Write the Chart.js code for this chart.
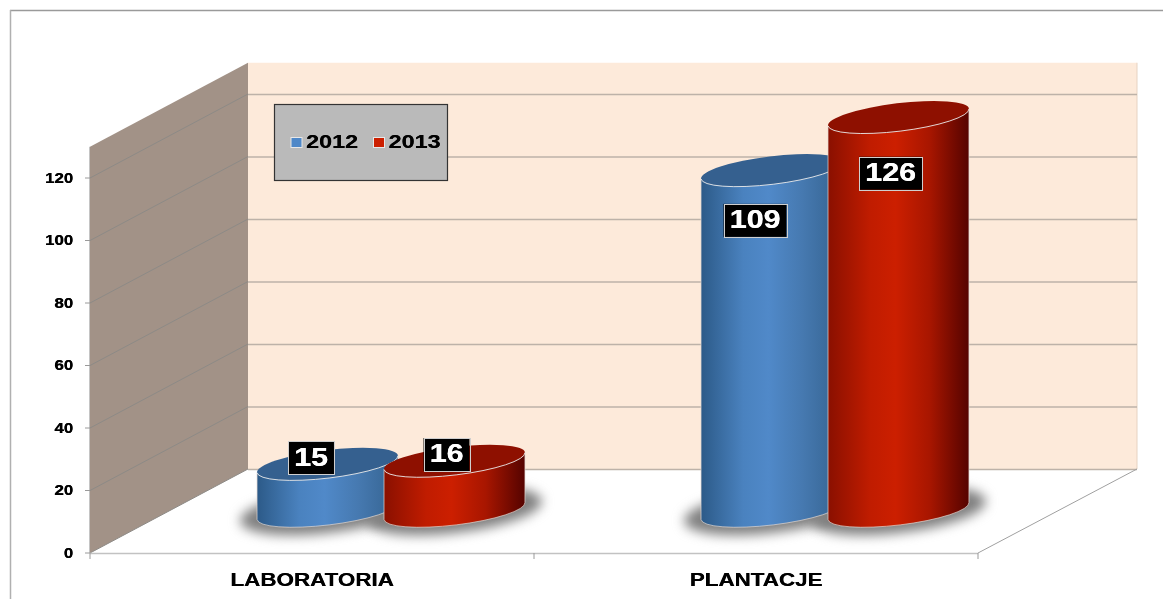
<!DOCTYPE html>
<html>
<head>
<meta charset="utf-8">
<title>Laboratoria / Plantacje</title>
<script src="https://cdn.jsdelivr.net/npm/chart.js@4"></script>
<style>
  html, body { margin: 0; padding: 0; background: #fff; overflow: hidden; }
  canvas { display: block; }
</style>
</head>
<body>
<canvas id="chart" width="1163" height="599"></canvas>
<script>
// data
const categories = ['LABORATORIA', 'PLANTACJE'];
const values2012 = [15, 109];
const values2013 = [16, 126];
const yTicks = [0, 20, 40, 60, 80, 100, 120];

// look of the fake 3d box
const depthX = 158;
const depthY = 84;
const tilt = -0.12;
const fontName = '"Liberation Sans", Arial, sans-serif';

const looks = [
  { color: '#4f88c8', top: '#35608f', stops: ['#2c5a88', '#4a82bf', '#5089c9', '#4679b0', '#34628f'], shiftX: -16.5, shiftTall: 50 },
  { color: '#cc1f00', top: '#8e1000', stops: ['#8a1000', '#c01c00', '#cc1f00', '#a81600', '#550300'], shiftX: -8, shiftTall: 56 }
];

function wideText(ctx, text, x, y, size, stretch, align) {
  ctx.save();
  ctx.font = 'bold ' + size + 'px ' + fontName;
  ctx.translate(x, y);
  ctx.scale(stretch, 1);
  ctx.textAlign = align;
  ctx.textBaseline = 'middle';
  ctx.fillText(text, 0, 1);
  // second pass thickens the strokes a little, the original text is heavy
  ctx.fillText(text, 0.3, 1);
  ctx.restore();
}

function line(ctx, x1, y1, x2, y2, color, width) {
  ctx.strokeStyle = color;
  ctx.lineWidth = width;
  ctx.beginPath();
  ctx.moveTo(x1, y1);
  ctx.lineTo(x2, y2);
  ctx.stroke();
}

function drawBox(chart) {
  const ctx = chart.ctx;
  const y = chart.scales.y;
  const x = chart.scales.x;
  const area = chart.chartArea;
  const backLeft = area.left + depthX;
  const backRight = area.right + depthX + 1;

  // page frame
  line(ctx, 10, 10.5, 1163, 10.5, '#9a9a9a', 1.5);
  line(ctx, 10.5, 10, 10.5, 599, '#b0b0b0', 1.5);

  // back wall
  ctx.fillStyle = '#fdeada';
  ctx.fillRect(backLeft, area.top - depthY, backRight - backLeft, area.bottom - area.top);

  // side wall
  ctx.fillStyle = '#a29287';
  ctx.beginPath();
  ctx.moveTo(area.left, area.bottom);
  ctx.lineTo(backLeft, area.bottom - depthY);
  ctx.lineTo(backLeft, area.top - depthY);
  ctx.lineTo(area.left, area.top);
  ctx.closePath();
  ctx.fill();

  line(ctx, backRight, area.top - depthY, backRight, area.bottom - depthY, '#e6d3c2', 1);
  line(ctx, area.left - 0.5, area.top, area.left - 0.5, area.bottom, '#c4c4c4', 1);

  // grid lines run along the side wall and then the back wall
  y.ticks.forEach(function (t) {
    const py = y.getPixelForValue(t.value);
    line(ctx, area.left, py, backLeft, py - depthY, '#8d8a86', 1);
    line(ctx, backLeft, py - depthY + 0.5, backRight, py - depthY + 0.5, '#bdb2a8', 1.5);
    line(ctx, area.left - 5, py, area.left, py, '#9a9a9a', 1);
    ctx.fillStyle = '#000';
    wideText(ctx, String(t.value), 73, py, 14, 1.2, 'right');
  });

  // floor edges
  line(ctx, area.left, area.bottom + 0.5, area.right, area.bottom + 0.5, '#c2c2c2', 1.5);
  line(ctx, area.right, area.bottom, backRight, area.bottom - depthY, '#a0a0a0', 1);
  [area.left, (area.left + area.right) / 2, area.right].forEach(function (px) {
    line(ctx, px, area.bottom, px, area.bottom + 6, '#9a9a9a', 1);
  });

  // category names
  ctx.fillStyle = '#000';
  categories.forEach(function (name, i) {
    wideText(ctx, name, x.getPixelForTick(i), 580, 17.5, 1.28, 'center');
  });
}

function cylinderShadow(ctx, bar) {
  const a = bar.width / 2;
  ctx.save();
  ctx.filter = 'blur(6px)';
  ctx.fillStyle = '#808080';
  ctx.beginPath();
  ctx.ellipse(bar.x + depthX / 2, bar.base - depthY / 2, a + 17, a * 0.31, tilt, 0, Math.PI * 2);
  ctx.fill();
  ctx.restore();
}

function drawCylinder(ctx, bar, look) {
  const a = bar.width / 2;
  const b = a * 0.197;
  const cx = bar.x + depthX / 2;
  const topY = bar.y - depthY / 2;
  const baseY = bar.base - depthY / 2;
  const dx = a * Math.cos(tilt);
  const dy = a * Math.sin(tilt);

  const grad = ctx.createLinearGradient(cx - dx, 0, cx + dx, 0);
  [0, 0.3, 0.48, 0.72, 1].forEach(function (at, i) {
    grad.addColorStop(at, look.stops[i]);
  });

  ctx.fillStyle = grad;
  ctx.beginPath();
  ctx.moveTo(cx - dx, topY - dy);
  ctx.lineTo(cx - dx, baseY - dy);
  ctx.ellipse(cx, baseY, a, b, tilt, Math.PI, 0, true);
  ctx.lineTo(cx + dx, topY + dy);
  ctx.closePath();
  ctx.fill();
  ctx.strokeStyle = 'rgba(225,215,210,0.7)';
  ctx.lineWidth = 1;
  ctx.stroke();

  ctx.fillStyle = look.top;
  ctx.beginPath();
  ctx.ellipse(cx, topY, a, b, tilt, 0, Math.PI * 2);
  ctx.fill();

  // pale rim along the front of the lid
  ctx.strokeStyle = 'rgba(235,235,235,0.9)';
  ctx.lineWidth = 1;
  ctx.beginPath();
  ctx.ellipse(cx, topY, a, b, tilt, Math.PI, 0, true);
  ctx.stroke();
}

function drawValueLabel(ctx, bar, look, value) {
  const cx = bar.x + depthX / 2 + look.shiftX;
  const tall = bar.base - bar.y > 100;
  const cy = bar.y - depthY / 2 + (tall ? look.shiftTall : -6.5);
  const text = String(value);
  ctx.font = 'bold 25px ' + fontName;
  const w = ctx.measureText(text).width * 1.22 + 12;
  const h = 33;
  ctx.fillStyle = '#000';
  ctx.fillRect(cx - w / 2, cy - h / 2, w, h);
  ctx.strokeStyle = '#cfcfcf';
  ctx.lineWidth = 1;
  ctx.strokeRect(Math.round(cx - w / 2) + 0.5, Math.round(cy - h / 2) + 0.5, Math.round(w), h);
  ctx.fillStyle = '#fff';
  wideText(ctx, text, cx, cy, 25, 1.22, 'center');
}

function drawLegend(chart) {
  const ctx = chart.ctx;
  ctx.fillStyle = '#bababa';
  ctx.fillRect(274.5, 104.5, 173, 76);
  ctx.strokeStyle = '#333';
  ctx.lineWidth = 1.2;
  ctx.strokeRect(274.5, 104.5, 173, 76);
  chart.data.datasets.forEach(function (ds, i) {
    const left = 291 + i * 82.5;
    ctx.fillStyle = looks[i].color;
    ctx.fillRect(left, 137.5, 11, 10);
    ctx.strokeStyle = '#e8e8e8';
    ctx.lineWidth = 1;
    ctx.strokeRect(left, 137.5, 11, 10);
    ctx.fillStyle = '#000';
    wideText(ctx, ds.label, left + 15, 142, 19, 1.23, 'left');
  });
}

// paints the box and the cylinders in place of the flat bars
const cylinders = {
  id: 'cylinders',
  beforeDatasetsDraw(chart) {
    const ctx = chart.ctx;
    drawBox(chart);
    const sets = chart.data.datasets.map(function (ds, i) { return chart.getDatasetMeta(i).data; });
    sets.forEach(function (bars) { bars.forEach(function (bar) { cylinderShadow(ctx, bar); }); });
    sets.forEach(function (bars, i) { bars.forEach(function (bar) { drawCylinder(ctx, bar, looks[i]); }); });
    sets.forEach(function (bars, i) {
      bars.forEach(function (bar, j) {
        drawValueLabel(ctx, bar, looks[i], chart.data.datasets[i].data[j]);
      });
    });
    drawLegend(chart);
    return false;
  }
};

new Chart(document.getElementById('chart'), {
  type: 'bar',
  data: {
    labels: categories,
    datasets: [
      { label: '2012', data: values2012, backgroundColor: looks[0].color },
      { label: '2013', data: values2013, backgroundColor: looks[1].color }
    ]
  },
  plugins: [cylinders],
  options: {
    responsive: false,
    animation: false,
    events: [],
    layout: { padding: { left: 90, right: 185, top: 146.75, bottom: 46 } },
    datasets: { bar: { categoryPercentage: 0.572, barPercentage: 1.118 } },
    plugins: { legend: { display: false }, tooltip: { enabled: false } },
    scales: {
      x: {
        afterFit: function (scale) { scale.height = 0; },
        grid: { display: false },
        border: { display: false },
        ticks: { display: false }
      },
      y: {
        min: 0,
        max: 130,
        afterFit: function (scale) { scale.width = 0; },
        afterBuildTicks: function (scale) {
          scale.ticks = yTicks.map(function (v) { return { value: v }; });
        },
        grid: { display: false },
        border: { display: false },
        ticks: { display: false }
      }
    }
  }
});
</script>
</body>
</html>
